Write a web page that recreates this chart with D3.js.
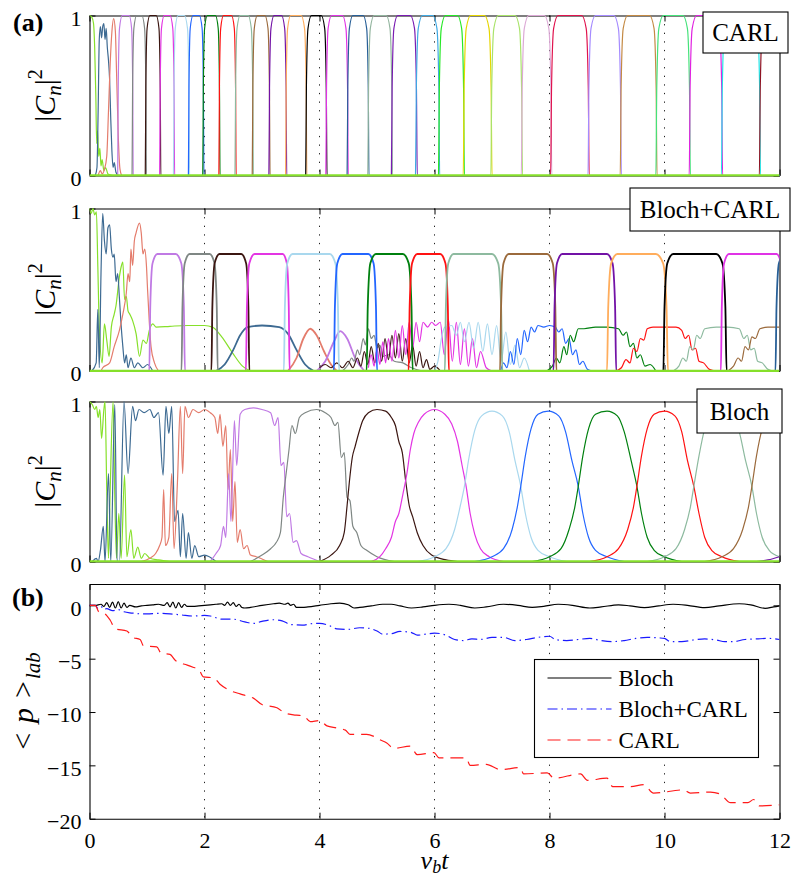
<!DOCTYPE html>
<html>
<head>
<meta charset="utf-8">
<script src="https://cdn.jsdelivr.net/npm/d3@7"></script>
<style>
  body { margin: 0; background: #fff; }
  text { font-family: "Liberation Serif", "Times New Roman", serif; fill: #000; }
</style>
</head>
<body>
<svg id="chart" width="793" height="876"></svg>
<script>
// ---------------------------------------------------------------
// Axis ticks
// ---------------------------------------------------------------
const timeTicks = [0, 2, 4, 6, 8, 10, 12];
const gridTimes = [2, 4, 6, 8, 10];
const popTicks = [0, 1];
const momTicks = [0, -5, -10, -15, -20];

// colour of each momentum state n (n = 0 is the initial state)
const stateColors = [
  "#86e02a", "#3d6a92", "#e47c6c", "#c07ae4", "#7f8784", "#3b1611",
  "#e335e3", "#a9d8ee", "#2366ff", "#00800f", "#ff1212", "#8dba9f",
  "#9b6a3c", "#7212a6", "#ffad5c", "#000000", "#e033e6", "#275f97",
  "#93b59f", "#7a1cb2", "#3fa9e3", "#26e826", "#e6d600", "#a9e36a",
  "#dca9d6", "#e0134e", "#a58bff", "#c48a44", "#45e27a", "#e022e0",
  "#22e3e6", "#8f1424"
];

// ---------------------------------------------------------------
// (a) top: CARL populations |C_n|^2
// ---------------------------------------------------------------
const carlState0 = [[0,1],[0.04,0.99],[0.07,0.95],[0.09,0.8],[0.11,0.5],[0.125,0.2],[0.14,0.28],
  [0.16,0.12],[0.18,0.17],[0.2,0.06],[0.22,0.1],[0.25,0.03],[0.28,0.05],[0.32,0.01],[0.4,0]];
const carlState1 = [[0.1,0],[0.13,0.05],[0.15,0.4],[0.17,0.85],[0.19,0.93],[0.21,0.86],[0.23,0.93],
  [0.25,0.95],[0.27,0.85],[0.29,0.92],[0.31,0.8],[0.33,0.72],[0.35,0.6],[0.37,0.35],[0.39,0.15],
  [0.41,0.05],[0.43,0.08],[0.46,0.02],[0.5,0]];
const carlState2 = [[0.15,0],[0.19,0.03],[0.22,0.01],[0.26,0.04],[0.3,0.12],[0.33,0.4],[0.36,0.7],
  [0.39,0.9],[0.42,0.98],[0.45,0.9],[0.47,0.65],[0.5,0.25],[0.53,0.04],[0.56,0]];
// [state n, start, top start, top end, end]
const carlPulses = [
  [3,0.49,0.57,0.69,0.76],[4,0.74,0.82,0.91,0.99],[5,0.97,1.05,1.16,1.24],
  [6,1.22,1.30,1.40,1.48],[7,1.46,1.54,1.65,1.74],[8,1.72,1.80,1.91,1.99],
  [9,1.97,2.05,2.19,2.27],[10,2.25,2.33,2.47,2.55],[11,2.53,2.62,2.76,2.85],
  [12,2.83,2.92,3.05,3.14],[13,3.12,3.21,3.34,3.43],[14,3.41,3.50,3.68,3.78],
  [15,3.76,3.86,4.03,4.13],[16,4.11,4.21,4.40,4.50],[17,4.48,4.58,4.76,4.86],
  [18,4.84,4.95,5.16,5.27],[19,5.25,5.36,5.58,5.70],[20,5.67,5.79,5.97,6.09],
  [21,6.07,6.19,6.40,6.52],[22,6.50,6.63,6.87,7.00],[23,6.98,7.11,7.40,7.53],
  [24,7.51,7.64,7.91,8.04],[25,8.02,8.15,8.56,8.69],[26,8.67,8.80,9.12,9.25],
  [27,9.23,9.36,9.74,9.87],[28,9.85,9.98,10.32,10.45],[29,10.43,10.56,10.88,11.01],
  [30,10.99,11.12,11.54,11.67],[31,11.65,11.78,12.3,12.4]
];
const carlLevel = 1;

// ---------------------------------------------------------------
// (a) middle: Bloch+CARL populations
// ---------------------------------------------------------------
const bcState0 = [[0,1],[0.03,0.97],[0.06,1.0],[0.09,0.96],[0.12,0.98],[0.145,0.64],[0.17,0.27],
  [0.22,0.05],[0.26,0.29],[0.3,0.19],[0.34,0.09],[0.38,0.27],[0.43,0.35],[0.46,0.4],[0.52,0.58],
  [0.55,0.64],[0.58,0.67],[0.61,0.44],[0.64,0.46],[0.67,0.37],[0.7,0.35],[0.75,0.31],[0.81,0.23],
  [0.87,0.09],[0.93,0.19],[0.99,0.17],[1.04,0.25],[1.1,0.29],[1.16,0.27],[1.4,0.275],[1.7,0.28],
  [2.0,0.28],[2.14,0.27],[2.3,0.21],[2.49,0.11],[2.66,0.03],[2.8,0]];
const bcState1 = [[0.04,0],[0.116,0.05],[0.145,0.38],[0.17,0.02],[0.2,0.6],[0.23,0.97],[0.26,0.8],
  [0.29,0.72],[0.32,0.88],[0.35,0.9],[0.38,0.75],[0.41,0.7],[0.43,0.72],[0.46,0.55],[0.49,0.6],
  [0.52,0.45],[0.55,0.28],[0.58,0.15],[0.61,0.05],[0.64,0.1],[0.67,0.02],[0.72,0.08],[0.78,0.02],
  [0.84,0.05],[0.93,0.02],[1.01,0.04],[1.1,0]];
const bcState1Hump = [[2.2,0],[2.35,0.04],[2.5,0.13],[2.62,0.22],[2.75,0.27],[3.0,0.28],[3.3,0.27],
  [3.45,0.23],[3.6,0.13],[3.75,0.04],[3.9,0]];
const bcState2 = [[0.2,0],[0.23,0.02],[0.35,0.05],[0.43,0.15],[0.52,0.25],[0.58,0.35],[0.64,0.48],
  [0.67,0.6],[0.7,0.55],[0.72,0.75],[0.75,0.65],[0.78,0.8],[0.81,0.85],[0.87,0.91],[0.9,0.85],
  [0.93,0.72],[0.96,0.75],[0.99,0.65],[1.01,0.5],[1.04,0.3],[1.07,0.15],[1.13,0.05],[1.2,0]];
const bcState2Hump = [[3.45,0],[3.6,0.08],[3.72,0.2],[3.84,0.26],[3.95,0.22],[4.08,0.12],[4.2,0.04],[4.3,0]];
const bcState3Hump = [[3.95,0],[4.1,0.06],[4.25,0.18],[4.36,0.245],[4.48,0.2],[4.62,0.08],[4.78,0]];
const bcState4Hump = [[4.4,0],[4.5,0.04],[4.56,0.08],[4.6,0.06],[4.66,0.13],[4.7,0.1],[4.76,0.2],
  [4.8,0.16],[4.85,0.26],[4.9,0.2],[4.95,0.22],[5.0,0.14],[5.05,0.16],[5.1,0.09],[5.2,0.1],
  [5.3,0.06],[5.45,0.05],[5.6,0.02],[5.8,0]];
const bcState5Hump = [[4.0,0.02],[4.1,0.04],[4.2,0.02],[4.3,0.05],[4.4,0.02],[4.5,0.06],[4.58,0.02],
  [4.66,0.08],[4.72,0.03],[4.78,0.12],[4.84,0.04],[4.9,0.15],[4.96,0.05],[5.02,0.17],[5.08,0.06],
  [5.14,0.2],[5.2,0.07],[5.26,0.22],[5.32,0.08],[5.38,0.23],[5.44,0.06],[5.5,0.2],[5.56,0.05],
  [5.62,0.16],[5.68,0.03],[5.74,0.12],[5.8,0.02],[5.86,0.07],[5.92,0.01],[6.0,0.03],[6.1,0]];
const bcState6Hump = [[4.85,0.02],[4.9,0.1],[4.95,0.03],[5.0,0.14],[5.05,0.04],[5.1,0.18],[5.15,0.05],
  [5.2,0.2],[5.26,0.06],[5.32,0.25],[5.38,0.08],[5.44,0.28],[5.5,0.1],[5.56,0.3],[5.62,0.14],
  [5.68,0.3],[5.74,0.18],[5.8,0.3],[5.88,0.27],[5.95,0.3],[6.02,0.28],[6.1,0.3],[6.17,0.1],
  [6.24,0.32],[6.31,0.06],[6.38,0.3],[6.45,0.04],[6.52,0.26],[6.59,0.03],[6.66,0.2],[6.73,0.02],
  [6.8,0.12],[6.9,0.02],[7.0,0]];
const bcState7Hump = [[6.0,0],[6.06,0.06],[6.12,0.2],[6.18,0.27],[6.3,0.28],[6.38,0.22],[6.45,0.3],
  [6.52,0.18],[6.6,0.3],[6.68,0.14],[6.76,0.3],[6.84,0.12],[6.92,0.29],[7.0,0.1],[7.08,0.28],
  [7.16,0.06],[7.24,0.24],[7.32,0.04],[7.4,0.16],[7.48,0.02],[7.56,0.08],[7.65,0]];
const bcState8Hump = [[7.15,0],[7.2,0.05],[7.26,0.02],[7.32,0.12],[7.38,0.04],[7.44,0.2],[7.5,0.1],
  [7.56,0.25],[7.62,0.18],[7.68,0.27],[7.74,0.24],[7.8,0.28],[7.9,0.27],[8.0,0.28],[8.1,0.27],
  [8.16,0.24],[8.22,0.26],[8.28,0.17],[8.34,0.2],[8.4,0.1],[8.46,0.13],[8.52,0.04],[8.58,0.06],
  [8.66,0.01],[8.75,0]];
const bcState9Hump = [[7.95,0],[8.05,0.03],[8.12,0.08],[8.18,0.05],[8.25,0.15],[8.3,0.1],[8.36,0.22],
  [8.42,0.18],[8.5,0.26],[8.6,0.26],[8.8,0.27],[9.0,0.27],[9.2,0.26],[9.28,0.22],[9.34,0.24],
  [9.4,0.15],[9.46,0.17],[9.52,0.08],[9.58,0.1],[9.66,0.03],[9.75,0.04],[9.85,0]];
const bcState10Hump = [[9.15,0],[9.25,0.02],[9.33,0.07],[9.4,0.05],[9.46,0.14],[9.52,0.12],[9.58,0.2],
  [9.64,0.19],[9.7,0.26],[9.8,0.27],[10.0,0.27],[10.2,0.27],[10.3,0.25],[10.36,0.2],[10.42,0.22],
  [10.48,0.13],[10.54,0.14],[10.6,0.06],[10.68,0.05],[10.78,0.01],[10.9,0]];
const bcState11Hump = [[10.15,0],[10.25,0.03],[10.32,0.08],[10.38,0.06],[10.44,0.15],[10.5,0.13],
  [10.56,0.22],[10.62,0.2],[10.7,0.26],[10.9,0.27],[11.1,0.27],[11.3,0.26],[11.38,0.2],[11.44,0.22],
  [11.5,0.13],[11.56,0.14],[11.62,0.06],[11.7,0.05],[11.8,0.01],[11.9,0]];
const bcState12Hump = [[11.1,0],[11.2,0.03],[11.28,0.08],[11.34,0.06],[11.4,0.15],[11.46,0.13],
  [11.52,0.21],[11.58,0.2],[11.66,0.26],[11.8,0.27],[12.0,0.27]];
// [state n, start, top start, top end, end]
const bcPlateaus = [
  [3,1.04,1.18,1.50,1.66],[4,1.60,1.74,2.09,2.23],[5,2.12,2.26,2.64,2.78],
  [6,2.72,2.87,3.36,3.48],[7,3.38,3.53,4.18,4.34],[8,4.25,4.40,4.85,5.00],
  [9,4.82,4.98,5.45,5.62],[10,5.55,5.70,6.10,6.25],[11,6.18,6.33,7.00,7.18],
  [12,7.14,7.29,7.96,8.12],[13,8.07,8.22,9.00,9.16],[14,9.00,9.18,9.85,10.06],
  [15,9.98,10.15,10.90,11.08],[16,10.98,11.12,11.95,12.08],[17,11.93,12.08,12.6,12.8]
];
const bcLevel = 0.72;

// ---------------------------------------------------------------
// (a) bottom: Bloch populations
// ---------------------------------------------------------------
const blochState0 = [[0,1],[0.05,0.98],[0.09,0.95],[0.12,0.97],[0.15,0.9],[0.18,0.95],[0.21,0.77],
  [0.25,0.95],[0.27,1.0],[0.3,0.45],[0.33,0.02],[0.36,0.45],[0.41,1.0],[0.44,0.4],[0.47,0.02],
  [0.51,0.3],[0.55,0.02],[0.61,0.54],[0.65,0.03],[0.72,0.2],[0.77,0.02],[0.84,0.09],[0.9,0.02],
  [0.96,0.05],[1.05,0.02],[1.2,0.01],[1.4,0]];
const blochState1 = [[0.05,0],[0.12,0.02],[0.15,0],[0.19,0.07],[0.24,0.22],[0.27,0],[0.33,0.55],
  [0.37,0],[0.44,0.98],[0.48,0],[0.52,0],[0.6,1.0],[0.67,0.55],[0.75,0.97],[0.8,0.88],[0.86,0.95],
  [0.95,0.93],[1.05,0.95],[1.12,0.9],[1.2,0.93],[1.28,0.54],[1.33,0.97],[1.38,0.8],[1.43,0.97],
  [1.48,0.25],[1.54,0.32],[1.58,0.03],[1.62,0.3],[1.68,0.02],[1.72,0.18],[1.78,0.02],[1.83,0.1],
  [1.9,0.03],[2.0,0.04],[2.2,0]];
const blochState2 = [[0.9,0],[1.05,0.02],[1.15,0.05],[1.22,0.1],[1.26,0.15],[1.29,0.45],[1.32,0.1],
  [1.38,0.15],[1.43,0.55],[1.47,0.08],[1.53,0.5],[1.58,0.97],[1.62,0.55],[1.66,0.97],[1.72,0.9],
  [1.8,0.95],[1.9,0.93],[2.0,0.95],[2.1,0.93],[2.18,0.9],[2.23,0.8],[2.27,0.92],[2.32,0.72],
  [2.37,0.85],[2.41,0.45],[2.45,0.7],[2.49,0.25],[2.53,0.5],[2.57,0.12],[2.62,0.2],[2.68,0.08],
  [2.74,0.1],[2.8,0.04],[2.9,0.03],[3.1,0]];
const blochState3 = [[2.1,0],[2.2,0.05],[2.28,0.1],[2.33,0.22],[2.37,0.15],[2.42,0.55],[2.46,0.25],
  [2.52,0.88],[2.56,0.6],[2.62,0.92],[2.7,0.95],[2.85,0.96],[3.0,0.95],[3.15,0.93],[3.22,0.85],
  [3.28,0.9],[3.33,0.6],[3.38,0.62],[3.43,0.28],[3.48,0.3],[3.54,0.12],[3.6,0.13],[3.68,0.05],
  [3.8,0.03],[4.0,0]];
const blochState4 = [[2.8,0],[3.0,0.04],[3.15,0.08],[3.25,0.12],[3.32,0.18],[3.37,0.4],[3.42,0.55],
  [3.47,0.7],[3.52,0.85],[3.58,0.8],[3.65,0.9],[3.75,0.93],[3.95,0.95],[4.1,0.93],[4.2,0.9],
  [4.27,0.85],[4.32,0.87],[4.38,0.65],[4.43,0.68],[4.48,0.4],[4.53,0.38],[4.58,0.22],[4.65,0.18],
  [4.72,0.1],[4.82,0.07],[5.0,0.03],[5.3,0]];
const blochState5 = [[4.0,0],[4.2,0.04],[4.35,0.1],[4.43,0.18],[4.48,0.35],[4.52,0.5],[4.57,0.65],
  [4.62,0.72],[4.68,0.8],[4.75,0.88],[4.85,0.93],[5.0,0.95],[5.15,0.94],[5.25,0.9],[5.32,0.85],
  [5.38,0.75],[5.44,0.68],[5.5,0.5],[5.56,0.35],[5.62,0.28],[5.7,0.18],[5.8,0.1],[5.95,0.04],
  [6.2,0.01],[6.4,0]];
const blochState6 = [[4.9,0],[5.05,0.03],[5.15,0.08],[5.25,0.15],[5.32,0.25],[5.38,0.3],[5.45,0.42],
  [5.52,0.55],[5.58,0.7],[5.64,0.8],[5.72,0.87],[5.82,0.92],[6.0,0.95],[6.18,0.92],[6.3,0.86],
  [6.4,0.75],[6.48,0.6],[6.55,0.47],[6.62,0.3],[6.7,0.17],[6.8,0.08],[6.95,0.03],[7.2,0]];
const blochState7 = [[5.7,0],[6.0,0.03],[6.2,0.08],[6.35,0.2],[6.45,0.35],[6.52,0.47],[6.6,0.65],
  [6.7,0.82],[6.82,0.91],[7.0,0.94],[7.18,0.91],[7.3,0.81],[7.4,0.63],[7.5,0.47],[7.58,0.3],
  [7.68,0.15],[7.8,0.07],[8.0,0.03],[8.3,0]];
const blochState8 = [[6.7,0],[7.0,0.03],[7.2,0.08],[7.35,0.2],[7.44,0.34],[7.5,0.47],[7.58,0.66],
  [7.68,0.83],[7.8,0.92],[7.98,0.94],[8.16,0.91],[8.28,0.81],[8.39,0.63],[8.5,0.47],[8.58,0.3],
  [8.68,0.15],[8.8,0.07],[9.0,0.03],[9.3,0]];
const blochState9 = [[7.7,0],[8.0,0.03],[8.2,0.08],[8.34,0.2],[8.44,0.34],[8.5,0.47],[8.58,0.66],
  [8.68,0.83],[8.8,0.92],[9.0,0.94],[9.18,0.91],[9.3,0.81],[9.42,0.63],[9.52,0.47],[9.6,0.3],
  [9.7,0.15],[9.82,0.07],[10.0,0.03],[10.3,0]];
const blochState10 = [[8.7,0],[9.0,0.03],[9.2,0.08],[9.36,0.2],[9.46,0.34],[9.52,0.47],[9.6,0.66],
  [9.7,0.83],[9.82,0.92],[10.0,0.94],[10.18,0.91],[10.3,0.81],[10.4,0.63],[10.51,0.47],[10.6,0.3],
  [10.7,0.15],[10.82,0.07],[11.0,0.03],[11.3,0]];
const blochState11 = [[9.7,0],[10.0,0.03],[10.2,0.08],[10.35,0.2],[10.45,0.34],[10.51,0.47],
  [10.6,0.66],[10.7,0.83],[10.82,0.92],[11.0,0.94],[11.18,0.91],[11.3,0.81],[11.41,0.63],
  [11.52,0.47],[11.6,0.3],[11.7,0.15],[11.82,0.07],[12.0,0.03]];
const blochState12 = [[10.7,0],[11.0,0.03],[11.2,0.08],[11.36,0.2],[11.46,0.34],[11.52,0.47],
  [11.6,0.66],[11.7,0.83],[11.82,0.92],[12.0,0.94]];
const blochState13 = [[11.6,0],[11.8,0.01],[12.0,0.03]];

// ---------------------------------------------------------------
// (b) mean momentum <p>_lab
// ---------------------------------------------------------------
const momBloch = [[0,0],[0.1,0],[0.2,0.1],[0.25,-0.1],[0.3,0.25],[0.35,-0.2],[0.4,0.3],[0.45,-0.25],
  [0.5,0.35],[0.55,-0.25],[0.6,0.2],[0.65,-0.2],[0.7,0],[0.8,-0.15],[0.9,-0.05],[1.0,0],[1.1,0.05],
  [1.2,0.1],[1.3,0],[1.35,0.25],[1.4,-0.15],[1.45,0.3],[1.5,-0.25],[1.55,0.25],[1.6,-0.2],
  [1.65,0.1],[1.7,-0.1],[1.8,-0.1],[1.9,-0.05],[2.0,0],[2.2,0.1],[2.3,0.15],[2.35,0],[2.4,0.3],
  [2.45,0],[2.5,0.25],[2.55,-0.1],[2.6,0.1],[2.65,-0.2],[2.7,-0.25],[2.8,-0.2],[3.0,0],[3.2,0.15],
  [3.3,0.2],[3.4,0.1],[3.45,0.2],[3.5,0],[3.55,0.1],[3.6,-0.2],[3.7,-0.2],[3.8,-0.15],[4.0,0],
  [4.2,0.15],[4.35,0.2],[4.5,0.05],[4.6,-0.25],[4.7,-0.2],[4.9,-0.05],[5.1,0.1],[5.25,0.1],
  [5.4,-0.05],[5.6,-0.25],[5.8,-0.15],[6.0,0],[6.25,0.1],[6.45,0],[6.7,-0.25],[6.9,-0.15],
  [7.2,0.1],[7.45,0],[7.7,-0.2],[7.9,-0.1],[8.15,0.1],[8.4,0],[8.7,-0.25],[8.9,-0.15],[9.2,0.05],
  [9.4,-0.05],[9.65,-0.22],[9.9,-0.05],[10.15,0.1],[10.4,0],[10.7,-0.22],[10.95,-0.05],[11.3,0.15],
  [11.5,0.05],[11.75,-0.28],[11.9,-0.15],[12.0,-0.05]];
const momBlochCarl = [[0,0],[0.1,0],[0.15,-0.3],[0.2,-0.1],[0.25,-0.4],[0.3,-0.3],[0.4,-0.5],
  [0.5,-0.4],[0.6,-0.6],[0.7,-0.7],[0.8,-0.75],[0.9,-0.8],[1.0,-0.8],[1.2,-0.75],[1.4,-0.8],
  [1.6,-0.9],[1.8,-1.0],[2.0,-0.95],[2.1,-1.0],[2.3,-1.3],[2.5,-1.3],[2.7,-1.55],[2.85,-1.7],
  [3.0,-1.5],[3.2,-1.35],[3.35,-1.45],[3.5,-1.8],[3.7,-1.85],[3.9,-1.7],[4.0,-1.7],[4.15,-1.85],
  [4.3,-2.2],[4.5,-2.25],[4.7,-2.1],[4.85,-2.15],[5.0,-2.4],[5.1,-2.7],[5.25,-2.65],[5.4,-2.45],
  [5.6,-2.55],[5.7,-2.8],[5.85,-2.7],[6.0,-2.6],[6.2,-2.8],[6.35,-3.2],[6.5,-3.3],[6.65,-3.15],
  [6.8,-3.2],[7.0,-3.0],[7.2,-3.0],[7.4,-3.3],[7.6,-3.2],[7.8,-3.0],[8.0,-2.9],[8.1,-3.2],
  [8.3,-3.3],[8.5,-3.2],[8.7,-3.1],[8.9,-3.3],[9.1,-3.4],[9.3,-3.3],[9.5,-3.1],[9.7,-3.0],
  [9.9,-3.05],[10.0,-3.1],[10.1,-3.4],[10.3,-3.4],[10.5,-3.25],[10.7,-3.15],[10.9,-3.25],
  [11.05,-3.4],[11.2,-3.4],[11.4,-3.2],[11.6,-3.15],[11.8,-3.1],[12.0,-3.2]];
const momCarl = [[0,0],[0.1,0],[0.16,-0.6],[0.27,-0.8],[0.36,-1.4],[0.45,-2.2],[0.65,-2.4],
  [0.75,-3.0],[0.88,-3.2],[0.94,-3.8],[1.17,-3.9],[1.25,-4.5],[1.4,-4.6],[1.5,-5.2],[1.7,-5.6],
  [1.8,-5.8],[1.9,-6.0],[1.98,-6.7],[2.16,-6.8],[2.27,-7.4],[2.45,-8.0],[2.62,-8.3],[2.74,-8.5],
  [2.85,-8.7],[3.0,-9.3],[3.26,-9.6],[3.4,-10.1],[3.6,-10.3],[3.72,-10.35],[3.84,-10.9],
  [4.0,-10.8],[4.13,-11.3],[4.3,-11.5],[4.45,-11.7],[4.53,-12.1],[4.82,-12.1],[4.95,-12.3],
  [5.05,-12.6],[5.17,-12.9],[5.29,-13.4],[5.58,-13.2],[5.7,-14.0],[5.99,-13.8],[6.08,-14.3],
  [6.3,-14.3],[6.55,-14.3],[6.62,-15.0],[6.9,-14.9],[7.15,-15.4],[7.49,-15.2],[7.55,-15.8],
  [7.96,-15.7],[8.08,-16.2],[8.54,-15.8],[8.66,-16.4],[9.0,-16.2],[9.1,-17.0],[9.41,-17.0],
  [9.64,-16.8],[9.81,-17.6],[10.33,-17.3],[10.45,-17.6],[10.8,-17.5],[10.97,-17.7],[11.15,-18.5],
  [11.45,-18.5],[11.55,-18.2],[11.65,-18.8],[12.0,-18.7]];

const legendNames = ["Bloch", "Bloch+CARL", "CARL"];

// ---------------------------------------------------------------
// Drawing
// ---------------------------------------------------------------
const svg = d3.select("#chart");
const FONT = "\"Liberation Serif\", \"Times New Roman\", serif";
const x = d3.scaleLinear().domain([0, 12]).range([89.5, 779.5]);
const TICK = 6;

// outline of a flat-topped transfer pulse [n, t0, t1, t2, t3]:
// steep flanks that round off into the plateau
function plateau(p, level) {
  const [, t0, t1, t2, t3] = p;
  const a = t1 - t0, b = t3 - t2;
  return [[t0 - 0.6, 0], [t0, 0], [t0 + 0.12 * a, 0.55 * level], [t0 + 0.4 * a, 0.92 * level],
    [t1, level], [t2, level], [t3 - 0.4 * b, 0.92 * level], [t3 - 0.12 * b, 0.55 * level],
    [t3, 0], [t3 + 0.6, 0]];
}

function frame(g, y, yTicks, showX, clipId) {
  const [x0, x1] = x.range();
  const [yb, yt] = y.range();
  g.append("clipPath").attr("id", clipId)
    .append("rect").attr("x", x0).attr("y", yt - 1).attr("width", x1 - x0).attr("height", yb - yt + 2);

  // dotted vertical grid
  g.append("g").selectAll("line").data(gridTimes).join("line")
    .attr("x1", d => x(d)).attr("x2", d => x(d))
    .attr("y1", yt).attr("y2", yb)
    .attr("stroke", "#222").attr("stroke-width", 1).attr("stroke-dasharray", "1.3,7.3");

  const ax = [
    g.append("g").attr("transform", `translate(0,${yb})`)
      .call(d3.axisBottom(x).tickValues(timeTicks).tickSize(-TICK).tickSizeOuter(0)
        .tickPadding(14).tickFormat(showX ? d3.format("d") : () => "")),
    g.append("g").attr("transform", `translate(0,${yt})`)
      .call(d3.axisTop(x).tickValues(timeTicks).tickSize(-TICK).tickSizeOuter(0).tickFormat(() => "")),
    g.append("g").attr("transform", `translate(${x0},0)`)
      .call(d3.axisLeft(y).tickValues(yTicks).tickSize(-TICK).tickSizeOuter(0).tickPadding(8)
        .tickFormat(d => d < 0 ? "\u2212" + Math.abs(d) : String(d))),
    g.append("g").attr("transform", `translate(${x1},0)`)
      .call(d3.axisRight(y).tickValues(yTicks).tickSize(-TICK).tickSizeOuter(0).tickFormat(() => ""))
  ];
  ax.forEach(a => {
    a.select(".domain").attr("stroke", "#000").attr("stroke-width", 1.1);
    a.selectAll(".tick line").attr("stroke", "#000").attr("stroke-width", 1);
    a.selectAll("text").attr("font-family", FONT).attr("font-size", 22).attr("fill", "#000");
  });
  ax[2].selectAll("text").attr("dy", "0.45em");
  if (showX) ax[0].selectAll("text").attr("dy", "0.71em");
}

function popPanel(y, clipId, traces, width) {
  const g = svg.append("g");
  frame(g, y, popTicks, false, clipId);
  const line = d3.line().x(d => x(d[0])).y(d => y(d[1])).curve(d3.curveMonotoneX);
  const plot = g.append("g").attr("clip-path", `url(#${clipId})`);
  plot.selectAll("path.trace").data(traces).join("path")
    .attr("class", "trace")
    .attr("d", d => line(d.pts))
    .attr("fill", "none")
    .attr("stroke", d => stateColors[d.n])
    .attr("stroke-width", d => d.w || width)
    .attr("stroke-linejoin", "round");
  // the unoccupied states all lie on zero
  plot.append("path").attr("d", line([[0, 0], [12, 0]]))
    .attr("stroke", stateColors[0]).attr("stroke-width", 2.4).attr("fill", "none");
  return g;
}

function labelBox(cx, cy, w, h, label) {
  const g = svg.append("g");
  g.append("rect").attr("x", cx - w / 2).attr("y", cy - h / 2).attr("width", w).attr("height", h)
    .attr("fill", "#fff").attr("stroke", "#000").attr("stroke-width", 1.1);
  g.append("text").attr("x", cx).attr("y", cy).attr("dy", "0.35em")
    .attr("text-anchor", "middle").attr("font-size", 25).text(label);
}

function popYLabel(cy) {
  const t = svg.append("text").attr("transform", `translate(55,${cy}) rotate(-90)`)
    .attr("text-anchor", "middle").attr("font-size", 30);
  t.append("tspan").text("|");
  t.append("tspan").attr("font-style", "italic").text("C");
  t.append("tspan").attr("font-style", "italic").attr("font-size", 21).attr("dy", 6).text("n");
  t.append("tspan").attr("dy", -6).text("|");
  t.append("tspan").attr("font-size", 20).attr("dy", -13).text("2");
}

// ---- panel: CARL
const y1 = d3.scaleLinear().domain([0, 1]).range([175.5, 15.5]);
const carlTraces = [
  { n: 0, pts: carlState0 }, { n: 1, pts: carlState1 }, { n: 2, pts: carlState2 },
  ...carlPulses.map(p => ({ n: p[0], pts: plateau(p, carlLevel) }))
];
popPanel(y1, "clipCarl", carlTraces, 1.2);
popYLabel(95.5);
labelBox(745.5, 32.5, 85, 41, "CARL");

// ---- panel: Bloch+CARL
const y2 = d3.scaleLinear().domain([0, 1]).range([371, 208.5]);
const bcTraces = [
  { n: 0, pts: bcState0 }, { n: 1, pts: bcState1 }, { n: 2, pts: bcState2 },
  { n: 1, pts: bcState1Hump, w: 1.8 }, { n: 2, pts: bcState2Hump, w: 1.8 },
  { n: 3, pts: bcState3Hump, w: 1.8 }, { n: 4, pts: bcState4Hump }, { n: 5, pts: bcState5Hump },
  { n: 6, pts: bcState6Hump }, { n: 7, pts: bcState7Hump }, { n: 8, pts: bcState8Hump },
  { n: 9, pts: bcState9Hump }, { n: 10, pts: bcState10Hump }, { n: 11, pts: bcState11Hump },
  { n: 12, pts: bcState12Hump },
  ...bcPlateaus.map(p => ({ n: p[0], pts: plateau(p, bcLevel), w: 1.8 }))
];
popPanel(y2, "clipBc", bcTraces, 1.2);
popYLabel(289.5);
labelBox(710, 209.5, 160, 43, "Bloch+CARL");

// ---- panel: Bloch
const y3 = d3.scaleLinear().domain([0, 1]).range([561.5, 401.5]);
const blochTraces = [blochState0, blochState1, blochState2, blochState3, blochState4, blochState5,
  blochState6, blochState7, blochState8, blochState9, blochState10, blochState11, blochState12,
  blochState13].map((pts, n) => ({ n, pts }));
popPanel(y3, "clipBloch", blochTraces, 1.2);
popYLabel(481.5);
labelBox(739.5, 411, 85, 44, "Bloch");

// ---- panel (b): momentum
const y4 = d3.scaleLinear().domain([-20, 2]).range([818.7, 584]);
const g4 = svg.append("g");
frame(g4, y4, momTicks, true, "clipMom");
const momLine = d3.line().x(d => x(d[0])).y(d => y4(d[1])).curve(d3.curveMonotoneX);
const momStyles = [
  { color: "#000", dash: null },
  { color: "#1a1aff", dash: "10,4,1.5,4" },
  { color: "#ff1a1a", dash: "13,7" }
];
const momSeries = [momBloch, momBlochCarl, momCarl];
const plot4 = g4.append("g").attr("clip-path", "url(#clipMom)");
momSeries.forEach((s, i) => {
  plot4.append("path").attr("d", momLine(s)).attr("fill", "none")
    .attr("stroke", momStyles[i].color).attr("stroke-width", 1.2)
    .attr("stroke-dasharray", momStyles[i].dash);
});

// legend
const lg = svg.append("g").attr("transform", "translate(534.5,659.5)");
lg.append("rect").attr("width", 224).attr("height", 98).attr("fill", "#fff")
  .attr("stroke", "#000").attr("stroke-width", 1.1);
legendNames.forEach((name, i) => {
  const yy = 18.5 + i * 31;
  lg.append("line").attr("x1", 13).attr("x2", 77).attr("y1", yy).attr("y2", yy)
    .attr("stroke", momStyles[i].color).attr("stroke-width", 1.2)
    .attr("stroke-dasharray", momStyles[i].dash);
  lg.append("text").attr("x", 84).attr("y", yy).attr("dy", "0.35em")
    .attr("font-size", 23).text(name);
});

// axis titles
const pl = svg.append("text").attr("transform", "translate(33,701) rotate(-90)")
  .attr("text-anchor", "middle").attr("font-size", 30);
pl.append("tspan").text("<");
pl.append("tspan").attr("font-style", "italic").attr("dx", 10).text("p");
pl.append("tspan").attr("dx", 10).text(">");
pl.append("tspan").attr("font-style", "italic").attr("font-size", 21).attr("dx", 2).attr("dy", 7).text("lab");

const xl = svg.append("text").attr("x", 434.5).attr("y", 869).attr("text-anchor", "middle")
  .attr("font-size", 26).attr("font-style", "italic");
xl.append("tspan").text("\u03bd");
xl.append("tspan").attr("font-size", 18).attr("dy", 4).text("b");
xl.append("tspan").attr("dy", -4).text("t");

// panel letters
svg.append("text").attr("x", 13).attr("y", 31).attr("font-size", 26).attr("font-weight", "bold").text("(a)");
svg.append("text").attr("x", 12).attr("y", 606).attr("font-size", 26).attr("font-weight", "bold").text("(b)");
</script>
</body>
</html>
